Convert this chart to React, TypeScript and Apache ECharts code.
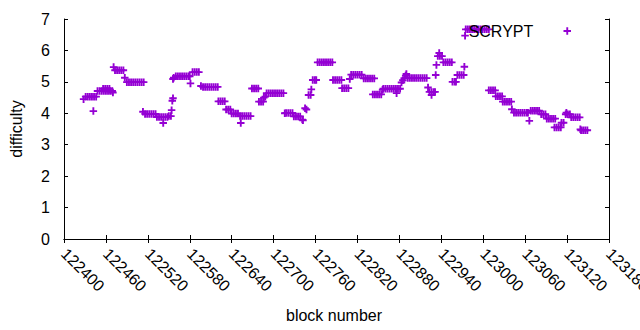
import React, { useEffect, useRef } from "react";
import * as echarts from "echarts";

// x-axis ticks
const xMin = 122400;
const xMax = 123180;
const xStep = 60;
const yMin = 0;
const yMax = 7;
const yStep = 1;

const seriesName = "SCRYPT";

// [block number, difficulty]
const blocksEarly: [number, number][] = [
  [122428, 4.45],
  [122431, 4.53], [122434, 4.53], [122437, 4.53], [122440, 4.53], [122443, 4.53], [122446, 4.53],
  [122442, 4.07],
  [122448, 4.71], [122451, 4.71], [122454, 4.71], [122457, 4.71], [122460, 4.71], [122463, 4.71], [122466, 4.71], [122469, 4.71],
  [122456, 4.78], [122459, 4.78], [122462, 4.78], [122465, 4.78],
  [122470, 4.66],
  [122471, 5.47],
  [122473, 5.37], [122476, 5.37], [122479, 5.37], [122482, 5.37], [122485, 5.37],
  [122487, 5.13],
  [122490, 4.99], [122493, 4.99], [122496, 4.99], [122499, 4.99], [122502, 4.99], [122505, 4.99], [122508, 4.99], [122511, 4.99], [122514, 4.99],
  [122513, 4.05],
  [122516, 3.98], [122519, 3.98], [122522, 3.98], [122525, 3.98], [122528, 3.98], [122531, 3.98],
  [122533, 3.88], [122536, 3.88], [122539, 3.88], [122542, 3.88], [122545, 3.88], [122548, 3.88],
  [122542, 3.69],
  [122550, 3.91], [122553, 3.91],
  [122554, 4.1], [122555, 4.4], [122556, 4.48],
];

const blocksMiddle: [number, number][] = [
  [122556, 5.09], [122557, 5.13],
  [122560, 5.18], [122563, 5.18], [122566, 5.18], [122569, 5.18], [122572, 5.18], [122575, 5.18], [122578, 5.18], [122580, 5.18],
  [122581, 4.95],
  [122584, 5.31], [122587, 5.31], [122590, 5.31], [122593, 5.31],
  [122596, 4.87],
  [122599, 4.84], [122602, 4.84], [122605, 4.84], [122608, 4.84], [122611, 4.84], [122614, 4.84], [122617, 4.84], [122620, 4.84],
  [122621, 4.38], [122624, 4.38], [122627, 4.38], [122630, 4.38],
  [122632, 4.12], [122635, 4.12], [122638, 4.12],
  [122640, 3.99], [122643, 3.99], [122646, 3.99], [122649, 3.99],
  [122652, 3.91], [122655, 3.91], [122658, 3.91], [122661, 3.91], [122664, 3.91], [122667, 3.91],
  [122653, 3.69],
  [122669, 4.79], [122672, 4.79], [122675, 4.79], [122678, 4.79],
  [122679, 4.37], [122682, 4.37], [122685, 4.37],
  [122686, 4.5], [122688, 4.53],
  [122690, 4.64], [122693, 4.64], [122696, 4.64], [122699, 4.64], [122702, 4.64], [122705, 4.64], [122708, 4.64], [122711, 4.64], [122714, 4.64],
  [122716, 4.0],
  [122718, 4.01], [122721, 4.01], [122724, 4.01], [122727, 4.01],
  [122729, 3.9], [122732, 3.9], [122735, 3.9], [122738, 3.9],
  [122741, 3.8], [122742, 3.78],
];

const blocksLater: [number, number][] = [
  [122745, 4.16], [122747, 4.12],
  [122750, 4.58], [122753, 4.58],
  [122754, 4.76],
  [122756, 5.06], [122759, 5.06], [122761, 5.06],
  [122763, 5.62], [122766, 5.62], [122769, 5.62], [122772, 5.62], [122775, 5.62], [122778, 5.62], [122781, 5.62], [122784, 5.62],
  [122785, 5.06], [122788, 5.06], [122791, 5.06], [122794, 5.06], [122797, 5.06],
  [122798, 4.8], [122801, 4.8], [122804, 4.8], [122807, 4.8],
  [122809, 5.09],
  [122811, 5.23], [122814, 5.23], [122817, 5.23], [122820, 5.23], [122823, 5.23], [122826, 5.23],
  [122829, 5.11], [122832, 5.11], [122835, 5.11], [122838, 5.11], [122841, 5.11], [122844, 5.11],
  [122842, 4.6], [122845, 4.6], [122848, 4.6], [122851, 4.6], [122854, 4.6],
  [122856, 4.75],
  [122857, 4.78], [122860, 4.78], [122863, 4.78], [122866, 4.78], [122869, 4.78], [122872, 4.78], [122875, 4.78], [122878, 4.78], [122881, 4.78],
  [122876, 4.64],
  [122883, 4.98], [122885, 5.05], [122887, 5.12], [122889, 5.2], [122890, 5.25],
  [122892, 5.12], [122895, 5.12], [122898, 5.12], [122901, 5.12], [122904, 5.12], [122907, 5.12], [122910, 5.12], [122913, 5.12], [122916, 5.12], [122919, 5.12],
  [122921, 4.82],
  [122923, 4.68], [122926, 4.68], [122929, 4.68], [122931, 4.68],
  [122926, 4.58],
  [122932, 5.22],
];

const blocksLate: [number, number][] = [
  [122933, 5.54],
  [122935, 5.82], [122938, 5.82], [122941, 5.82],
  [122937, 5.92],
  [122943, 5.62], [122946, 5.62], [122949, 5.62], [122952, 5.62], [122955, 5.62],
  [122956, 5.0], [122959, 5.0], [122961, 5.0],
  [122963, 5.22], [122966, 5.22], [122969, 5.22], [122972, 5.22],
  [122973, 5.48],
  [122974, 6.47],
  [122975, 6.67], [122978, 6.67], [122981, 6.67], [122984, 6.67], [122987, 6.67], [122990, 6.67],
  [122993, 6.67], [122996, 6.67], [122999, 6.67], [123002, 6.67], [123005, 6.67], [123008, 6.67],
  [123008, 4.73], [123011, 4.73], [123014, 4.73], [123017, 4.73],
  [123018, 4.54], [123021, 4.54], [123024, 4.54], [123027, 4.54],
  [123028, 4.37], [123031, 4.37], [123034, 4.37], [123037, 4.37], [123040, 4.37],
  [123041, 4.13],
  [123044, 4.02], [123047, 4.02], [123050, 4.02], [123053, 4.02], [123056, 4.02], [123059, 4.02], [123062, 4.02], [123064, 4.02],
  [123066, 3.76],
  [123068, 4.08], [123071, 4.08], [123074, 4.08], [123077, 4.08], [123080, 4.08],
  [123083, 3.97], [123086, 3.97], [123089, 3.97],
  [123091, 3.83], [123094, 3.83], [123097, 3.83], [123100, 3.83], [123103, 3.83],
  [123102, 3.55], [123105, 3.55], [123108, 3.55], [123111, 3.55],
  [123112, 3.7], [123115, 3.7],
  [123119, 4.02],
  [123118, 3.97], [123121, 3.97], [123124, 3.97],
  [123126, 3.87], [123129, 3.87], [123132, 3.87], [123135, 3.87], [123138, 3.87],
  [123139, 3.49],
  [123140, 3.46], [123143, 3.46], [123146, 3.46], [123149, 3.46],
];

const FONT = "'Liberation Sans', Arial, sans-serif";
const FS = 16;
const PURPLE = "#9400d3";
const PLUS = "path://M3.75,0H6.25V3.75H10V6.25H6.25V10H3.75V6.25H0V3.75H3.75Z";

export default function App() {
  const ref = useRef<HTMLDivElement>(null);
  useEffect(() => {
    if (!ref.current) return;
    const chart = echarts.init(ref.current, null, { renderer: "svg" });
    const axisLine = { show: true, lineStyle: { color: "#000", width: 1 } };
    const tick = { show: true, inside: true, length: 4, lineStyle: { color: "#000", width: 1 } };
    chart.setOption({
      animation: false,
      backgroundColor: "#fff",
      textStyle: { fontFamily: FONT },
      grid: {
        left: 64,
        right: 31,
        top: 19,
        bottom: 91,
        containLabel: false,
        outerBoundsMode: "none",
      },
      legend: {
        show: true,
        top: 23,
        right: 69,
        align: "right",
        padding: 0,
        itemWidth: 58,
        itemHeight: 7.5,
        symbolKeepAspect: true,
        textStyle: { fontSize: FS, color: "#000", fontFamily: FONT },
        data: [{ name: seriesName, icon: PLUS }],
      },
      xAxis: [
        {
          type: "value",
          position: "bottom",
          min: xMin,
          max: xMax,
          interval: xStep,
          axisLine,
          axisTick: tick,
          splitLine: { show: false },
          axisLabel: {
            rotate: -45,
            margin: 12,
            fontSize: FS,
            color: "#000",
            fontFamily: FONT,
            showMaxLabel: true,
            hideOverlap: false,
            formatter: (v: number) => String(v),
          },
        },
        {
          type: "value",
          position: "top",
          min: xMin,
          max: xMax,
          interval: xStep,
          axisLine,
          axisTick: tick,
          splitLine: { show: false },
          axisLabel: { show: false },
        },
      ],
      yAxis: [
        {
          type: "value",
          position: "left",
          min: yMin,
          max: yMax,
          interval: yStep,
          axisLine,
          axisTick: tick,
          splitLine: { show: false },
          axisLabel: { margin: 14, fontSize: FS, color: "#000", fontFamily: FONT },
        },
        {
          type: "value",
          position: "right",
          min: yMin,
          max: yMax,
          interval: yStep,
          axisLine,
          axisTick: tick,
          splitLine: { show: false },
          axisLabel: { show: false },
        },
      ],
      graphic: [
        {
          type: "text",
          x: 16.5,
          y: 129,
          rotation: Math.PI / 2,
          style: {
            text: "difficulty",
            fontSize: FS,
            fontFamily: FONT,
            fill: "#000",
            align: "center",
            verticalAlign: "middle",
          },
        },
        {
          type: "text",
          x: 334,
          y: 315.5,
          style: {
            text: "block number",
            fontSize: FS,
            fontFamily: FONT,
            fill: "#000",
            align: "center",
            verticalAlign: "middle",
          },
        },
      ],
      series: [
        {
          name: seriesName,
          type: "scatter",
          xAxisIndex: 0,
          yAxisIndex: 0,
          symbol: PLUS,
          symbolSize: 7.5,
          itemStyle: { color: PURPLE, opacity: 1 },
          emphasis: { disabled: true },
          data: [...blocksEarly, ...blocksMiddle, ...blocksLater, ...blocksLate],
        },
      ],
    });
    return () => chart.dispose();
  }, []);
  return (
    <div
      ref={ref}
      style={{ position: "fixed", left: 0, top: 0, width: 640, height: 330 }}
    />
  );
}
